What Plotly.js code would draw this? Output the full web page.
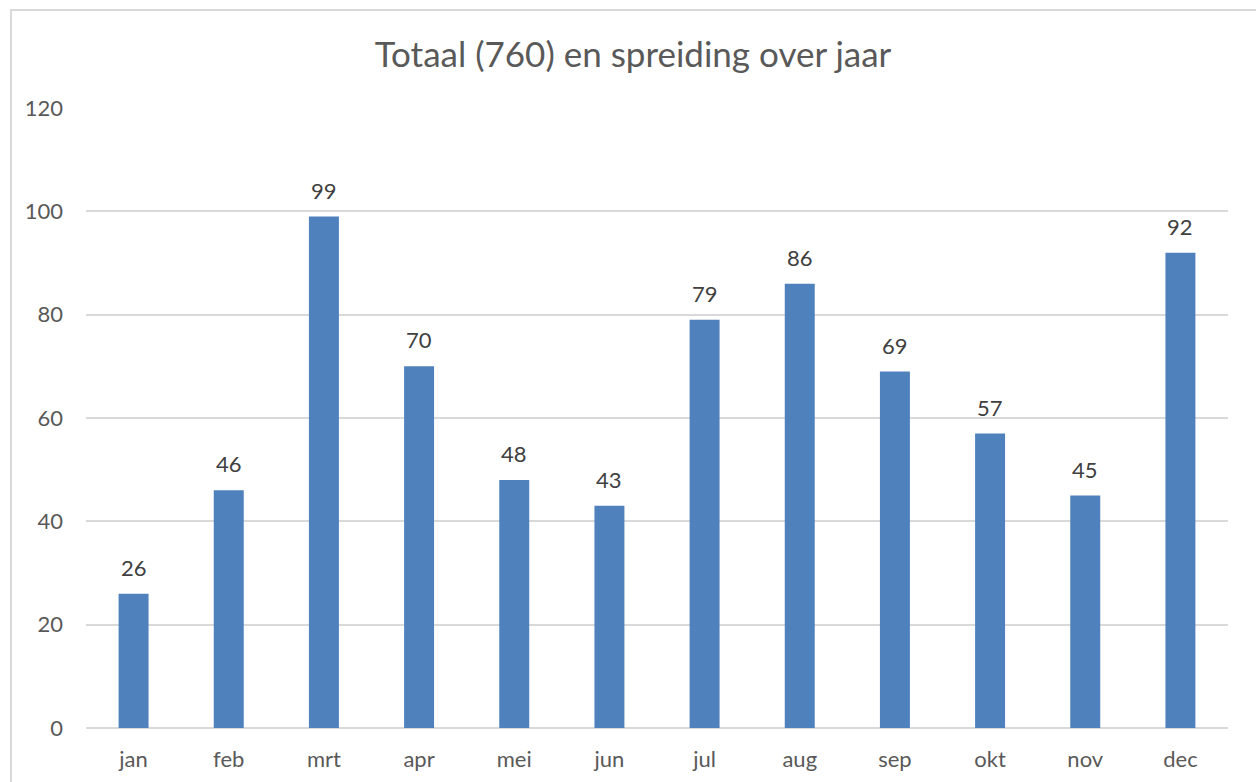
<!DOCTYPE html>
<html>
<head>
<meta charset="utf-8">
<script src="https://cdn.plot.ly/plotly-3.0.1.min.js"></script>
<style>
  body { margin: 0; background: #fff; }
  #frame { position: absolute; left: 10px; top: 9px; width: 1260px; height: 790px;
           border-left: 2px solid #d9d9d9; border-top: 2px solid #d9d9d9; }
  #chart { position: absolute; left: 0; top: 0; width: 1256px; height: 782px; }
</style>
</head>
<body>
<div id="frame"></div>
<div id="chart"></div>
<script>
// maanden en aantallen
var months = ['jan', 'feb', 'mrt', 'apr', 'mei', 'jun', 'jul', 'aug', 'sep', 'okt', 'nov', 'dec'];
var counts = [26, 46, 99, 70, 48, 43, 79, 86, 69, 57, 45, 92];
var yTicks = [0, 20, 40, 60, 80, 100, 120];

var font = 'Lato, "Liberation Sans", sans-serif';

var data = [{
  type: 'bar',
  x: months,
  y: counts,
  marker: { color: '#4f81bd' },
  hoverinfo: 'x+y'
}];

// labels boven de staven
var labels = months.map(function (m, i) {
  return {
    x: m, y: counts[i], text: String(counts[i]),
    xref: 'x', yref: 'y', yanchor: 'bottom', yshift: 11,
    showarrow: false,
    font: { family: font, size: 22, color: '#404040' }
  };
});

var layout = {
  width: 1256,
  height: 782,
  paper_bgcolor: 'rgba(0,0,0,0)',
  plot_bgcolor: 'rgba(0,0,0,0)',
  margin: { l: 86, r: 28, t: 108, b: 54 },
  title: {
    text: 'Totaal (760) en spreiding over jaar',
    font: { family: font, size: 35, color: '#595959' },
    x: 633 / 1256, xanchor: 'center',
    y: 1 - 55 / 782, yanchor: 'middle'
  },
  bargap: 0.685,
  showlegend: false,
  xaxis: {
    type: 'category',
    showgrid: false,
    showline: false,
    ticks: '',
    ticklabelstandoff: 16,
    tickfont: { family: font, size: 22, color: '#595959' }
  },
  yaxis: {
    range: [0, 120],
    tickvals: yTicks,
    showgrid: true,
    gridcolor: '#d9d9d9',
    gridwidth: 1.5,
    zeroline: true,
    zerolinecolor: '#d9d9d9',
    zerolinewidth: 1.5,
    ticks: '',
    ticklabelstandoff: 22,
    tickfont: { family: font, size: 22, color: '#595959' }
  },
  annotations: labels
};

Plotly.newPlot('chart', data, layout, { displayModeBar: false, responsive: false });
</script>
</body>
</html>
